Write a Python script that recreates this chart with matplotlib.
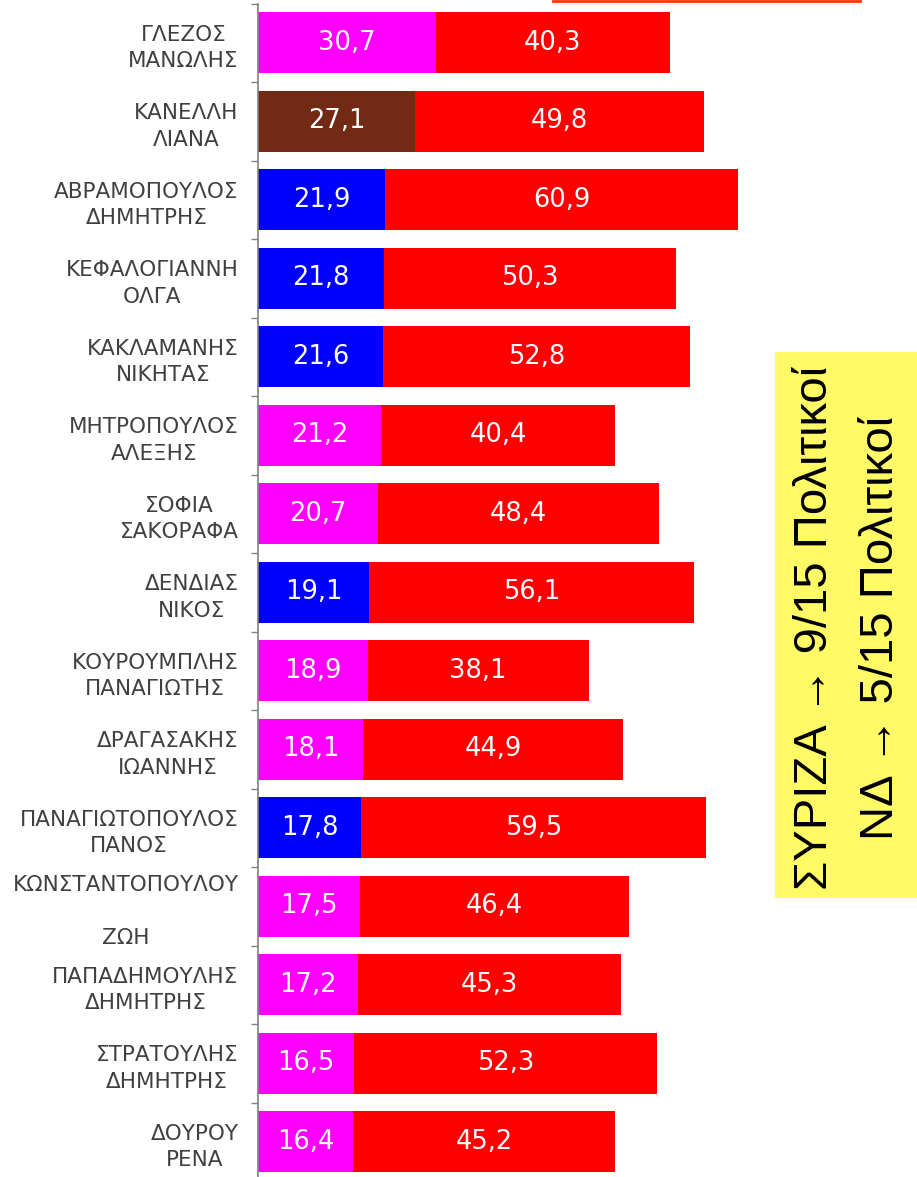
import numpy as np
import matplotlib
matplotlib.use("Agg")
import matplotlib.pyplot as plt
from matplotlib.lines import Line2D
from matplotlib.patches import Rectangle

# Δεδομένα
names = ["ΓΛΕΖΟΣ\nΜΑΝΩΛΗΣ", "ΚΑΝΕΛΛΗ\nΛΙΑΝΑ", "ΑΒΡΑΜΟΠΟΥΛΟΣ\nΔΗΜΗΤΡΗΣ",
         "ΚΕΦΑΛΟΓΙΑΝΝΗ\nΟΛΓΑ", "ΚΑΚΛΑΜΑΝΗΣ\nΝΙΚΗΤΑΣ", "ΜΗΤΡΟΠΟΥΛΟΣ\nΑΛΕΞΗΣ",
         "ΣΟΦΙΑ\nΣΑΚΟΡΑΦΑ", "ΔΕΝΔΙΑΣ\nΝΙΚΟΣ", "ΚΟΥΡΟΥΜΠΛΗΣ\nΠΑΝΑΓΙΩΤΗΣ",
         "ΔΡΑΓΑΣΑΚΗΣ\nΙΩΑΝΝΗΣ", "ΠΑΝΑΓΙΩΤΟΠΟΥΛΟΣ\nΠΑΝΟΣ", "ΚΩΝΣΤΑΝΤΟΠΟΥΛΟΥ\n\nΖΩΗ",
         "ΠΑΠΑΔΗΜΟΥΛΗΣ\nΔΗΜΗΤΡΗΣ", "ΣΤΡΑΤΟΥΛΗΣ\nΔΗΜΗΤΡΗΣ", "ΔΟΥΡΟΥ\nΡΕΝΑ"]
positive = [30.7, 27.1, 21.9, 21.8, 21.6, 21.2, 20.7, 19.1, 18.9, 18.1, 17.8, 17.5, 17.2, 16.5, 16.4]
negative = [40.3, 49.8, 60.9, 50.3, 52.8, 40.4, 48.4, 56.1, 38.1, 44.9, 59.5, 46.4, 45.3, 52.3, 45.2]
party = ["SYRIZA", "KKE", "ND", "ND", "ND", "SYRIZA", "SYRIZA", "ND", "SYRIZA",
         "SYRIZA", "ND", "SYRIZA", "SYRIZA", "SYRIZA", "SYRIZA"]
party_colors = {"SYRIZA": "#FF00FF", "KKE": "#722A14", "ND": "#0000FF"}

fig = plt.figure(figsize=(9.17, 11.77), dpi=100)
ax = fig.add_axes([258 / 917, -4 / 1177, 659 / 917, 1177.5 / 1177])

y = np.arange(len(names))
cols = [party_colors[p] for p in party]
ax.barh(y, positive, height=0.78, color=cols)
ax.barh(y, negative, left=positive, height=0.78, color="#FF0000")

for i in range(len(names)):
    ax.text(positive[i] / 2, y[i], f"{positive[i]:.1f}".replace(".", ","),
            color="white", ha="center", va="center", fontsize=18.5)
    ax.text(positive[i] + negative[i] / 2, y[i], f"{negative[i]:.1f}".replace(".", ","),
            color="white", ha="center", va="center", fontsize=18.5)

ax.set_xlim(0, 659 / 5.8)
ax.set_ylim(len(names) - 0.5, -0.5)
ax.set_yticks(y)
ax.set_yticklabels(names, fontsize=15.5, color="#404040", linespacing=1.4)
for lbl in ax.get_yticklabels():
    lbl.set_multialignment("center")
ax.set_yticks(np.arange(len(names) + 1) - 0.5, minor=True)
ax.tick_params(axis="y", which="major", length=0, pad=14)
ax.tick_params(axis="y", which="minor", length=5, color="#808080", width=1)
ax.set_xticks([])
for s in ["top", "right", "bottom"]:
    ax.spines[s].set_visible(False)
ax.spines["left"].set_color("#808080")
ax.spines["left"].set_linewidth(1.2)

# bout de la légende coupée en haut
fig.add_artist(Line2D([553 / 917, 860 / 917], [1 - 1 / 1177, 1 - 1 / 1177],
                      color="#FF3300", lw=2))

# encadré jaune
fig.add_artist(Rectangle((775 / 917, 1 - 898 / 1177), 142 / 917, 546 / 1177,
                         facecolor="#FFFA66", edgecolor="none"))
txt_font = ["Liberation Sans", "DejaVu Sans"]
fig.text(815 / 917, 1 - 628 / 1177, "ΣΥΡΙΖΑ → 9/15 Πολιτικοί", rotation=90,
         ha="center", va="center", fontsize=34, family=txt_font)
fig.text(881 / 917, 1 - 628 / 1177, "ΝΔ → 5/15 Πολιτικοί", rotation=90,
         ha="center", va="center", fontsize=34, family=txt_font)

fig.savefig("out.png", dpi=100)
